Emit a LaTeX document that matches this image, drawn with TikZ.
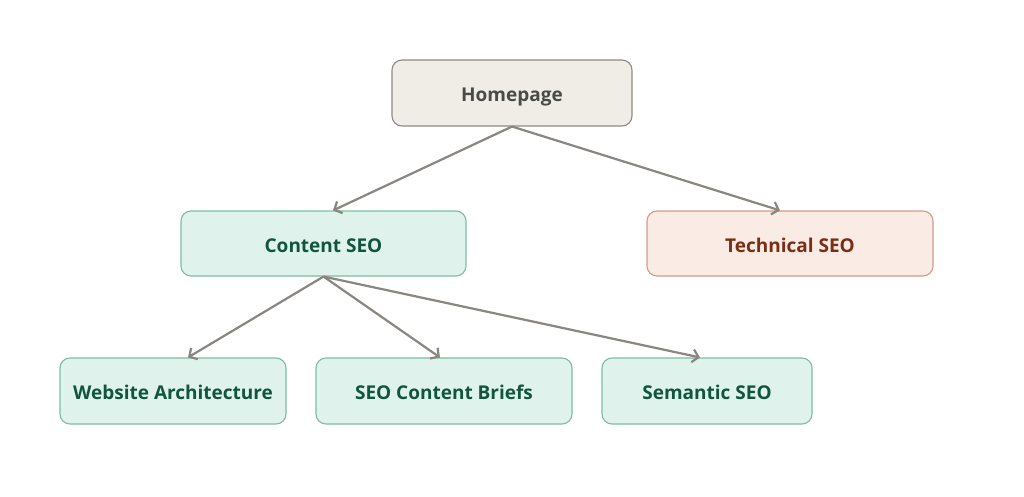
\documentclass[tikz,border=0pt]{standalone}
\usepackage{fontspec}
\setmainfont{Open Sans}
\usetikzlibrary{arrows.meta,calc}
\definecolor{homefill}{HTML}{F0EDE7}
\definecolor{homedraw}{HTML}{8E8A84}
\definecolor{hometext}{HTML}{4A4A48}
\definecolor{greenfill}{HTML}{E0F2EC}
\definecolor{greendraw}{HTML}{7DBDA4}
\definecolor{greentext}{HTML}{10563F}
\definecolor{redfill}{HTML}{FAEBE5}
\definecolor{reddraw}{HTML}{D49A87}
\definecolor{redtext}{HTML}{7A2E14}
\definecolor{edgecol}{HTML}{8A8682}
\tikzset{
  box/.style={rounded corners=10pt, line width=1.1pt, inner sep=0pt, text height=17pt, text depth=0pt, font=\fontsize{19}{22}\selectfont\bfseries},
  homebox/.style={box, fill=homefill, draw=homedraw, text=hometext},
  greenbox/.style={box, fill=greenfill, draw=greendraw, text=greentext},
  redbox/.style={box, fill=redfill, draw=reddraw, text=redtext},
  link/.style={draw=edgecol, line width=2.2pt, -{Straight Barb[length=6pt,width=13pt,line width=2.2pt]}}
}
\begin{document}
\begin{tikzpicture}[x=1pt,y=-1pt]
\useasboundingbox[fill=white] (0,0) rectangle (1024,497);
\node[homebox, minimum width=240pt, minimum height=66pt] (home) at (512,93) {Homepage};
\node[greenbox, minimum width=285pt, minimum height=65pt] (cs) at (323.5,243.5) {Content SEO};
\node[redbox, minimum width=286pt, minimum height=65pt] (ts) at (790,243.5) {Technical SEO};
\node[greenbox, minimum width=226pt, minimum height=66pt] (wa) at (173,391) {Website Architecture};
\node[greenbox, minimum width=256pt, minimum height=66pt] (cb) at (444,391) {SEO Content Briefs};
\node[greenbox, minimum width=210pt, minimum height=66pt] (ss) at (707,391) {Semantic SEO};
\coordinate (csin) at ([xshift=9.5pt]cs.north);
\coordinate (tsin) at ([xshift=-10pt]ts.north);
\coordinate (wain) at ([xshift=15pt]wa.north);
\coordinate (cbin) at ([xshift=-4pt]cb.north);
\coordinate (ssin) at ([xshift=-7pt]ss.north);
\draw[link] (home.south) -- (csin);
\draw[link] (home.south) -- (tsin);
\draw[link] (cs.south) -- (wain);
\draw[link] (cs.south) -- (cbin);
\draw[link] (cs.south) -- (ssin);
\end{tikzpicture}
\end{document}
